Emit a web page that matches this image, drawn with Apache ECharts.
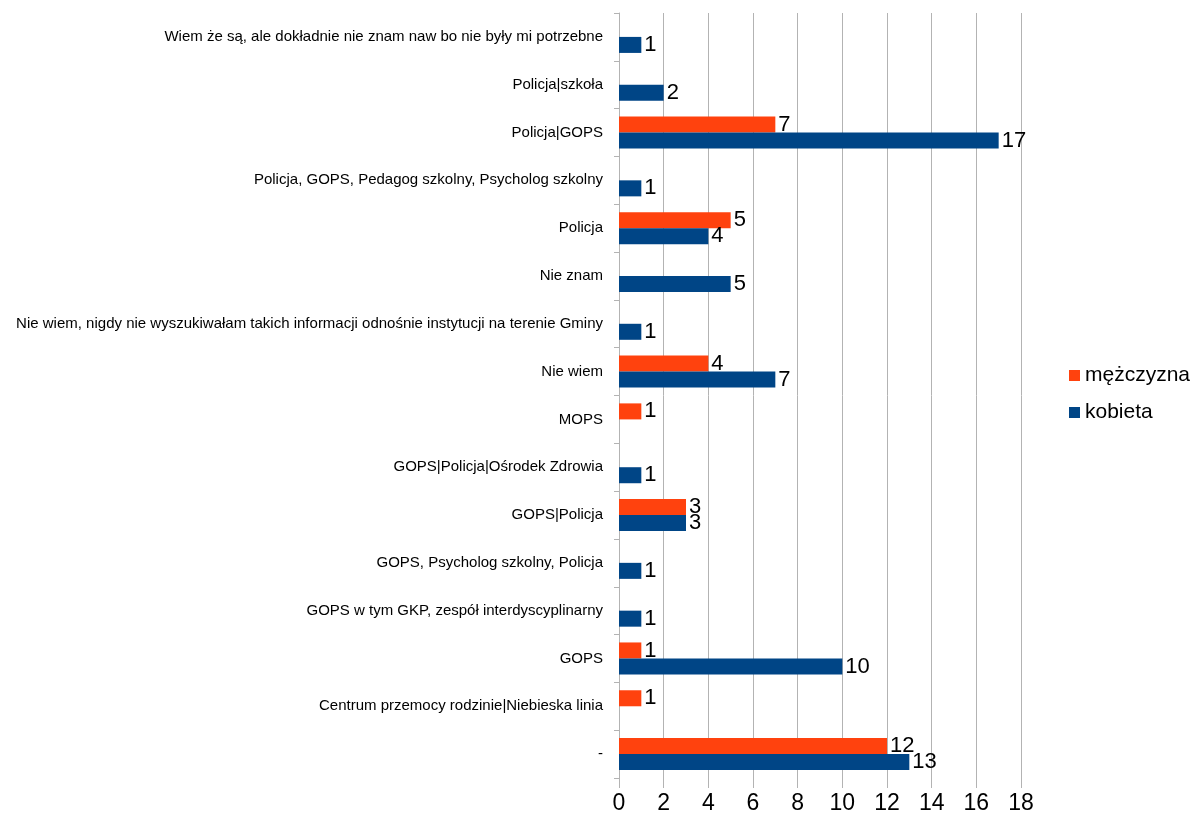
<!DOCTYPE html>
<html><head><meta charset="utf-8">
<script src="https://cdn.jsdelivr.net/npm/echarts@6/dist/echarts.min.js"></script>
<style>html,body{margin:0;padding:0;background:#fff}#c{width:1198px;height:821px}</style>
</head><body><div id="c"></div>
<script>
const categories = [
  "-",
  "Centrum przemocy rodzinie|Niebieska linia",
  "GOPS",
  "GOPS w tym GKP, zespół interdyscyplinarny",
  "GOPS, Psycholog szkolny, Policja",
  "GOPS|Policja",
  "GOPS|Policja|Ośrodek Zdrowia",
  "MOPS",
  "Nie wiem",
  "Nie wiem, nigdy nie wyszukiwałam takich informacji odnośnie instytucji na terenie Gminy",
  "Nie znam",
  "Policja",
  "Policja, GOPS, Pedagog szkolny, Psycholog szkolny",
  "Policja|GOPS",
  "Policja|szkoła",
  "Wiem że są, ale dokładnie nie znam naw bo nie były mi potrzebne"
];
const mezczyzna = [12, 1, 1, null, null, 3, null, 1, 4, null, null, 5, null, 7, null, null];
const kobieta = [13, null, 10, 1, 1, 3, 1, null, 7, 1, 5, 4, 1, 17, 2, 1];
const xTicks = {min: 0, max: 18, interval: 2};

const FONT = '"Liberation Sans Narrow", "Liberation Sans", sans-serif';
const chart = echarts.init(document.getElementById('c'));
const lbl = {show: true, position: 'right', distance: 3, color: '#000', fontSize: 22, fontFamily: FONT};
chart.setOption({
  animation: false,
  textStyle: {fontFamily: FONT},
  grid: {left: 619, right: 177, top: 13, bottom: 43, containLabel: false},
  legend: {
    data: ['mężczyzna', 'kobieta'], orient: 'vertical', left: 1064, top: 360,
    itemWidth: 11, itemHeight: 11, itemGap: 16, icon: 'rect',
    textStyle: {fontSize: 21, color: '#000', fontFamily: FONT}
  },
  xAxis: {
    type: 'value', min: xTicks.min, max: xTicks.max, interval: xTicks.interval,
    axisLine: {show: false},
    axisTick: {show: true, length: 10, lineStyle: {color: '#b3b3b3'}},
    splitLine: {show: true, lineStyle: {color: '#b3b3b3'}},
    axisLabel: {color: '#000', fontSize: 23, margin: 14, fontFamily: FONT}
  },
  yAxis: {
    type: 'category', data: categories,
    axisLine: {show: true, lineStyle: {color: '#b3b3b3'}},
    axisTick: {show: true, length: 5, lineStyle: {color: '#b3b3b3'}},
    axisLabel: {color: '#000', fontSize: 15, margin: 16, fontFamily: FONT}
  },
  series: [
    {name: 'mężczyzna', type: 'bar', data: mezczyzna, itemStyle: {color: '#ff420e'},
     barGap: '0%', barCategoryGap: '33%', label: lbl},
    {name: 'kobieta', type: 'bar', data: kobieta, itemStyle: {color: '#004586'},
     barGap: '0%', barCategoryGap: '33%', label: lbl}
  ]
});
</script></body></html>
